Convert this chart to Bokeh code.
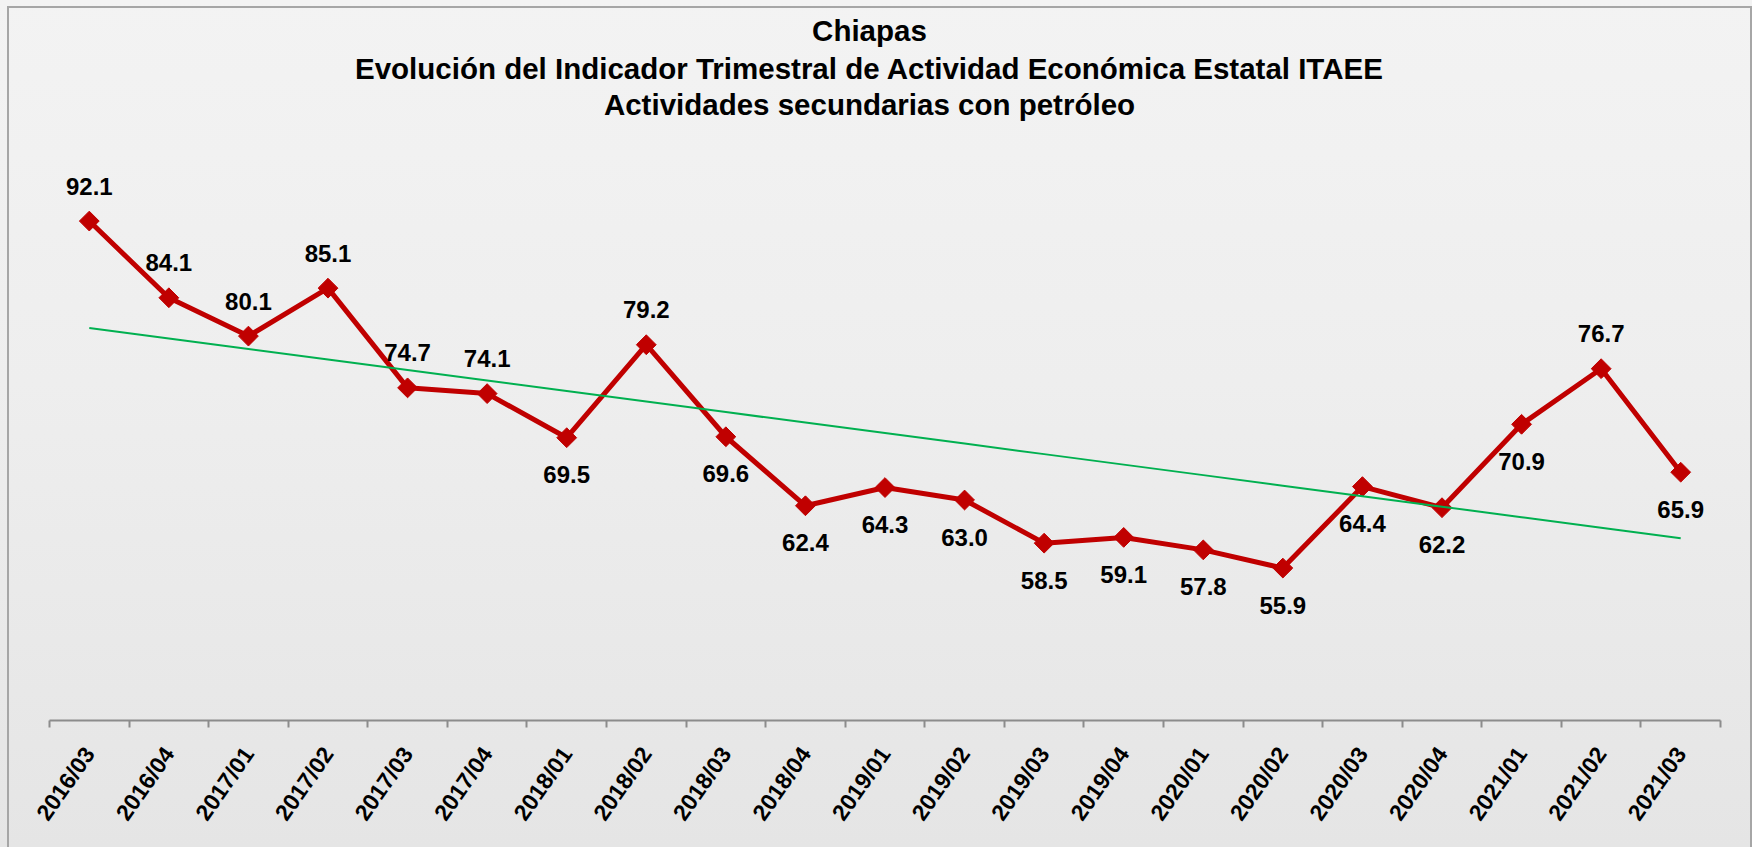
import math
import numpy as np
from bokeh.plotting import figure
from bokeh.models import Range1d, FixedTicker, GlobalInlineStyleSheet
from bokeh.core.properties import value
from bokeh.embed import file_html
from bokeh.resources import INLINE

quarters = ["2016/03", "2016/04", "2017/01", "2017/02", "2017/03", "2017/04", "2018/01",
            "2018/02", "2018/03", "2018/04", "2019/01", "2019/02", "2019/03", "2019/04",
            "2020/01", "2020/02", "2020/03", "2020/04", "2021/01", "2021/02", "2021/03"]
itaee = [92.1, 84.1, 80.1, 85.1, 74.7, 74.1, 69.5, 79.2, 69.6, 62.4, 64.3, 63.0, 58.5, 59.1,
         57.8, 55.9, 64.4, 62.2, 70.9, 76.7, 65.9]
label_side = ["above", "above", "above", "above", "above", "above", "below", "above", "below",
              "below", "below", "below", "below", "below", "below", "below", "below", "below",
              "below", "above", "below"]
title_lines = ["Chiapas",
               "Evolución del Indicador Trimestral de Actividad Económica Estatal ITAEE",
               "Actividades secundarias con petróleo"]

FONT = "Liberation Sans"
FRAME_W, FRAME_H = 1671, 720
Y0 = 40
PX_PER_UNIT = 9.586
Y1 = Y0 + FRAME_H / PX_PER_UNIT      # frame also holds the title area

n = len(quarters)
xc = [i + 0.5 for i in range(n)]          # category centres on a 0..n axis

p = figure(frame_width=FRAME_W, frame_height=FRAME_H,
           x_range=Range1d(0, n), y_range=Range1d(Y0, Y1),
           output_backend="svg", toolbar_location=None, y_axis_location=None,
           min_border_left=49, min_border_right=32, min_border_top=0, min_border_bottom=125)
p.background_fill_alpha = 0
p.border_fill_alpha = 0
p.outline_line_color = None
p.grid.visible = False
p.stylesheets = [GlobalInlineStyleSheet(css=(
    "html,body{background:#ececec;}"
    "body{background:linear-gradient(to bottom,#f3f3f3 0%,#eeeeee 45%,#e5e5e5 100%) fixed;}"
    "body::before{content:'';position:fixed;left:7px;top:6px;width:1745px;height:1000px;"
    "box-sizing:border-box;border:2px solid #a6a6a6;pointer-events:none;z-index:100;}"))]

ax = p.xaxis[0]
ax.ticker = FixedTicker(ticks=xc, minor_ticks=list(range(n + 1)))
ax.major_label_overrides = {c: q for c, q in zip(xc, quarters)}
ax.axis_line_color = "#8c8c8c"
ax.axis_line_width = 2
ax.major_tick_line_color = None
ax.major_tick_out = 0
ax.major_tick_in = 0
ax.minor_tick_line_color = "#8c8c8c"
ax.minor_tick_line_width = 2
ax.minor_tick_in = 0
ax.minor_tick_out = 7
ax.major_label_orientation = math.radians(55)
ax.major_label_text_font = FONT
ax.major_label_text_font_style = "bold"
ax.major_label_text_font_size = "23px"
ax.major_label_text_color = "black"
ax.major_label_standoff = 22

# series
p.line(x=xc, y=itaee, line_color="#C00000", line_width=5)
p.scatter(x=xc, y=itaee, marker="square", size=14, angle=math.pi / 4,
          fill_color="#C00000", line_color="#C00000")

# linear trend
idx = np.arange(n)
slope, intercept = np.polyfit(idx, itaee, 1)
trend = intercept + slope * idx
p.line(x=xc, y=trend, line_color="#00B050", line_width=2)

# data labels
offsets = [-35 if s == "above" else 37 for s in label_side]
p.text(x=xc, y=itaee, text=[f"{v:.1f}" for v in itaee], y_offset=offsets,
       text_align="center", text_baseline="middle", text_font=value(FONT),
       text_font_style="bold", text_font_size="24px", text_color="black")

# title (three centred lines at the top of the frame)
title_px = [30, 68, 104]
title_x = [10.305] * len(title_lines)
title_y = [Y0 + (FRAME_H - t) / PX_PER_UNIT for t in title_px]
p.text(x=title_x, y=title_y, text=title_lines, text_align="center", text_baseline="middle",
       text_font=value(FONT), text_font_style="bold", text_font_size="29.5px",
       text_color="black")

open("out.html", "w").write(file_html(p, INLINE))
